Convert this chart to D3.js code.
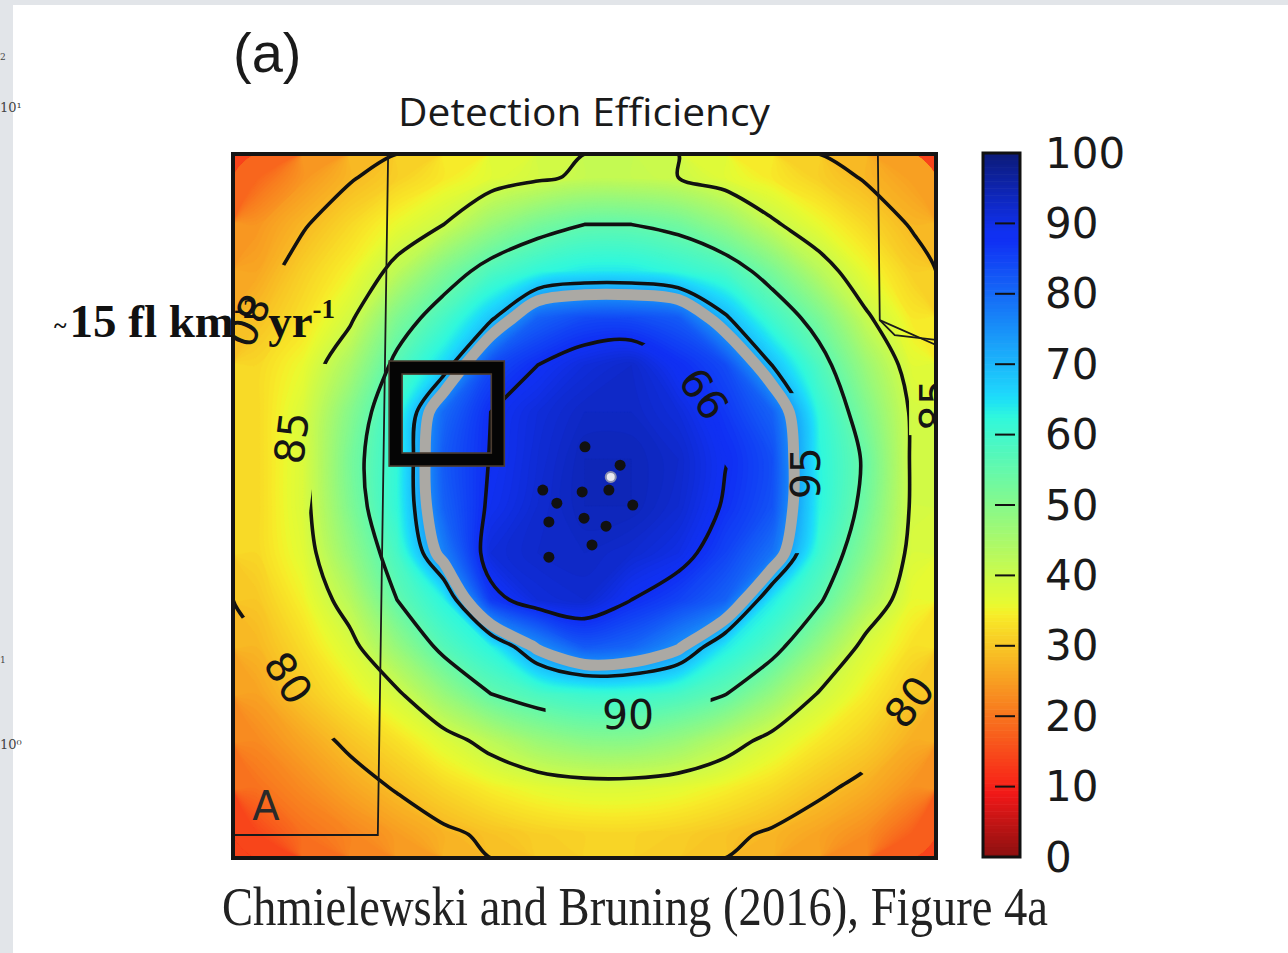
<!DOCTYPE html>
<html>
<head>
<meta charset="utf-8">
<script src="https://cdn.jsdelivr.net/npm/d3@7"></script>
<style>
  html, body { margin: 0; padding: 0; background: #fff; }
  svg { display: block; }
</style>
</head>
<body>
<script>
'use strict';

// detection efficiency (colour field, %) on a 15 x 15 grid
var nx = 15, ny = 15;
var effGrid = [
  [18, 24, 28, 31, 34, 37, 39, 41, 41, 40, 37, 34, 31, 28, 25],
  [24, 28, 32, 36, 40, 47, 52, 55, 55, 53, 48, 41, 36, 32, 28],
  [26, 31, 35, 42, 51, 58, 62, 64, 64, 62, 59, 52, 43, 36, 31],
  [29, 33, 39, 51, 59, 68, 81, 84, 84, 82, 70, 60, 52, 41, 34],
  [32, 36, 45, 57, 66, 84, 88, 91, 92.5, 88, 84, 69, 58, 47, 37],
  [32, 38, 50, 61, 80, 88, 91, 93, 93, 91, 86.5, 81, 62, 51, 39],
  [32, 38, 52, 62, 82, 88.3, 91.5, 94, 94, 92.5, 88.2, 83.6, 63, 54, 39],
  [32, 38, 51, 62, 81, 89, 92, 94, 94, 92, 87.5, 83, 63, 53, 39],
  [32, 37, 48, 59, 77, 91, 92.5, 93, 92, 90, 85, 79, 60.5, 50, 38],
  [30, 35, 43, 55, 63, 86, 91, 92, 88, 85, 81, 64, 56, 45, 36],
  [28, 32.5, 38, 47.6, 57, 63, 75, 82, 80.5, 75, 64, 57.6, 48, 38, 33],
  [25.5, 30, 34, 39, 47.5, 55, 58.6, 60.7, 60.8, 59, 55.3, 48, 39.6, 34.4, 30],
  [22.6, 26, 29.7, 33, 37.4, 42.3, 47, 49.5, 49.7, 47.4, 43, 38, 34, 31, 27],
  [19.6, 22.7, 26, 29, 32, 34.6, 36.5, 37.6, 37.6, 36.7, 34.8, 32.5, 29.6, 27, 23.5],
  [14, 19.4, 22, 24.8, 27.5, 29.4, 30.8, 31.5, 31.6, 30.9, 29.6, 27.8, 25.6, 22.9, 17]
];

// isolines drawn over the colours, and the value of the colour field they follow
var contourNames = ['80', '85', '90', '95', '99'];
var contourLevels = [28.5, 40, 55, 69, 88];
var grayRingLevel = 74;

// contour labels (grid units)
var labelText = ['85', '90', '95', '99', '80', '80', '80', '85'];
var labelX = [1.26, 8.43, 12.23, 10.07, 1.17, 14.44, 0.30, 14.98];
var labelY = [6.05, 11.95, 6.80, 5.09, 11.17, 11.68, 3.54, 5.35];
var labelAngle = [-83, 0, -90, -126, 57, -52, 113, -90];
var labelGap = [155, 165, 160, 150, 150, 170, 130, 60];

// network stations (grid units)
var stationX = [7.51, 8.26, 6.61, 7.45, 8.02, 6.91, 8.53, 6.74, 7.49, 7.96, 7.66, 6.74];
var stationY = [6.24, 6.63, 7.16, 7.20, 7.16, 7.44, 7.48, 7.84, 7.76, 7.93, 8.33, 8.59];
var centreStation = [8.06, 6.88];

// thin boundary lines on the map (grid units)
var boundaryLines = [
  [[3.31, 0], [3.09, 14.51], [0, 14.51]],
  [[13.76, 0], [13.80, 3.54], [15, 4.07]],
  [[13.80, 3.54], [14.12, 3.86], [15, 3.96]]
];
var regionLabel = { text: 'A', x: 0.41, y: 14.19 };

// highlight box drawn on the slide (grid units)
var highlightBox = [[3.47, 4.55], [5.65, 6.51]];

var colorbarTicks = [0, 10, 20, 30, 40, 50, 60, 70, 80, 90, 100];

// jet_r colour map, toned a little like the scanned figure
var jetStops = [0, 9, 11, 34, 35, 36, 62.5, 65, 66, 87.5, 89, 100];
var jetColors = ['#8a1010', '#f01818', '#f82a18', '#f8e828', '#f2f22a', '#e8fa30',
                 '#30f8dc', '#1ee0f6', '#1ed6fc', '#1030f4', '#1030f0', '#0c1a78'];

var W = 1288, H = 953;
var plot = { left: 233, top: 154, right: 936, bottom: 858 };
var cbar = { left: 983, right: 1020, top: 153, bottom: 857 };

var svg = d3.select('body').append('svg').attr('width', W).attr('height', H);

// slide background bits
svg.append('rect').attr('width', W).attr('height', H).attr('fill', '#fff');
svg.append('rect').attr('width', 13).attr('height', H).attr('fill', '#e2e5e9');
svg.append('rect').attr('width', W).attr('height', 5).attr('fill', '#e2e5e9');
var frag = svg.append('g').attr('font-family', 'DejaVu Serif').attr('fill', '#444');
frag.append('text').attr('x', 0).attr('y', 60).attr('font-size', 9).text('2');
frag.append('text').attr('x', 0).attr('y', 112).attr('font-size', 13).text('10¹');
frag.append('text').attr('x', 0).attr('y', 663).attr('font-size', 9).text('1');
frag.append('text').attr('x', 0).attr('y', 749).attr('font-size', 13).text('10⁰');

var color = d3.scaleLinear().domain(jetStops).range(jetColors).clamp(true);
var xScale = d3.scaleLinear().domain([0, nx]).range([plot.left, plot.right]);
var yScale = d3.scaleLinear().domain([0, ny]).range([plot.top, plot.bottom]);
var values = [].concat.apply([], effGrid);

// contour rings drawn as smooth closed curves
var ringLine = d3.line()
  .x(function (d) { return xScale(d[0]); })
  .y(function (d) { return yScale(d[1]); })
  .curve(d3.curveCatmullRomClosed.alpha(0.5));
var smoothPath = function (geom) {
  return geom.coordinates.map(function (poly) {
    return poly.map(function (ring) { return ringLine(ring.slice(0, -1)); }).join('');
  }).join('');
};

var defs = svg.append('defs');
defs.append('clipPath').attr('id', 'plotClip').append('rect')
  .attr('x', plot.left).attr('y', plot.top)
  .attr('width', plot.right - plot.left).attr('height', plot.bottom - plot.top);

// mask leaving gaps in the isolines where labels sit
var mask = defs.append('mask').attr('id', 'gapMask').attr('maskUnits', 'userSpaceOnUse')
  .attr('x', 0).attr('y', 0).attr('width', W).attr('height', H);
mask.append('rect').attr('width', W).attr('height', H).attr('fill', '#fff');
labelText.forEach(function (t, i) {
  mask.append('rect')
    .attr('transform', 'translate(' + xScale(labelX[i]) + ',' + yScale(labelY[i]) + ') rotate(' + labelAngle[i] + ')')
    .attr('x', -labelGap[i] / 2).attr('y', -26).attr('width', labelGap[i]).attr('height', 52)
    .attr('fill', '#000');
});

var g = svg.append('g').attr('clip-path', 'url(#plotClip)');

// filled colour field
g.append('rect').attr('x', plot.left).attr('y', plot.top)
  .attr('width', plot.right - plot.left).attr('height', plot.bottom - plot.top)
  .attr('fill', color(d3.min(values)));
var bands = d3.contours().size([nx, ny]).thresholds(d3.range(10, 96, 0.5))(values);
g.append('g').selectAll('path').data(bands).enter().append('path')
  .attr('d', smoothPath)
  .attr('fill-rule', 'evenodd')
  .attr('fill', function (d) { return color(d.value + 0.25); })
  .attr('stroke', function (d) { return color(d.value + 0.25); })
  .attr('stroke-width', 0.6);

// grey ring
var ring = d3.contours().size([nx, ny]).thresholds([grayRingLevel])(values);
g.append('g').selectAll('path').data(ring).enter().append('path')
  .attr('d', smoothPath).attr('fill', 'none')
  .attr('stroke', '#aba9a4').attr('stroke-width', 11);

// black isolines
var iso = d3.contours().size([nx, ny]).thresholds(contourLevels)(values);
g.append('g').attr('mask', 'url(#gapMask)')
  .selectAll('path').data(iso).enter().append('path')
  .attr('d', smoothPath).attr('fill', 'none')
  .attr('stroke', '#111').attr('stroke-width', 3.6).attr('stroke-linejoin', 'round');

// boundaries
var line = d3.line().x(function (d) { return xScale(d[0]); }).y(function (d) { return yScale(d[1]); });
g.append('g').selectAll('path').data(boundaryLines).enter().append('path')
  .attr('d', line).attr('fill', 'none').attr('stroke', '#1a1a1a').attr('stroke-width', 1.8);

// contour labels
g.append('g').selectAll('text').data(labelText).enter().append('text')
  .attr('transform', function (d, i) {
    return 'translate(' + xScale(labelX[i]) + ',' + yScale(labelY[i]) + ') rotate(' + labelAngle[i] + ')';
  })
  .attr('text-anchor', 'middle').attr('dominant-baseline', 'central')
  .attr('font-family', 'DejaVu Sans').attr('font-size', 41).attr('fill', '#151515')
  .text(function (d) { return d; });

g.append('text').attr('x', xScale(regionLabel.x)).attr('y', yScale(regionLabel.y))
  .attr('font-family', 'DejaVu Sans').attr('font-size', 40).attr('fill', '#2a2a2a')
  .text(regionLabel.text);

// stations
g.append('g').selectAll('circle').data(stationX).enter().append('circle')
  .attr('cx', function (d) { return xScale(d); })
  .attr('cy', function (d, i) { return yScale(stationY[i]); })
  .attr('r', 5.5).attr('fill', '#111');
g.append('circle').attr('cx', xScale(centreStation[0])).attr('cy', yScale(centreStation[1]))
  .attr('r', 5).attr('fill', '#e8e8f0').attr('stroke', '#8a8fb0').attr('stroke-width', 2);

// frame
svg.append('rect').attr('x', plot.left).attr('y', plot.top)
  .attr('width', plot.right - plot.left).attr('height', plot.bottom - plot.top)
  .attr('fill', 'none').attr('stroke', '#151515').attr('stroke-width', 4);

// colour bar
var cy = d3.scaleLinear().domain([0, 100]).range([cbar.bottom, cbar.top]);
svg.append('g').selectAll('rect').data(d3.range(0, 100, 0.5)).enter().append('rect')
  .attr('x', cbar.left).attr('width', cbar.right - cbar.left)
  .attr('y', function (d) { return cy(d + 0.5); })
  .attr('height', function (d) { return cy(d) - cy(d + 0.5) + 0.6; })
  .attr('fill', function (d) { return color(d + 0.25); });
svg.append('g').selectAll('line').data(colorbarTicks.slice(1, -1)).enter().append('line')
  .attr('x1', cbar.left + 12).attr('x2', cbar.right - 5)
  .attr('y1', function (d) { return cy(d); }).attr('y2', function (d) { return cy(d); })
  .attr('stroke', '#111').attr('stroke-width', 2);
svg.append('rect').attr('x', cbar.left).attr('y', cbar.top)
  .attr('width', cbar.right - cbar.left).attr('height', cbar.bottom - cbar.top)
  .attr('fill', 'none').attr('stroke', '#111').attr('stroke-width', 3);
svg.append('g').selectAll('text').data(colorbarTicks).enter().append('text')
  .attr('x', 1045).attr('y', function (d) { return cy(d); })
  .attr('dominant-baseline', 'central')
  .attr('font-family', 'DejaVu Sans').attr('font-size', 42).attr('fill', '#1a1a1a')
  .text(function (d) { return d; });

// titles
svg.append('text').attr('x', 233).attr('y', 72)
  .attr('font-family', 'Liberation Sans').attr('font-size', 56).attr('fill', '#1a1a1a')
  .text('(a)');
svg.append('text').attr('x', 398).attr('y', 126)
  .attr('font-family', 'Open Sans').attr('font-size', 38).attr('fill', '#1a1a1a')
  .attr('textLength', 372).attr('lengthAdjust', 'spacingAndGlyphs')
  .text('Detection Efficiency');

// highlight box
var bx0 = xScale(highlightBox[0][0]), by0 = yScale(highlightBox[0][1]);
var bx1 = xScale(highlightBox[1][0]), by1 = yScale(highlightBox[1][1]);
svg.append('rect').attr('x', bx0).attr('y', by0).attr('width', bx1 - bx0).attr('height', by1 - by0)
  .attr('fill', 'none').attr('stroke', '#050505').attr('stroke-width', 13);
[-6.5, 6.5].forEach(function (o) {
  svg.append('rect').attr('x', bx0 + o).attr('y', by0 + o)
    .attr('width', bx1 - bx0 - 2 * o).attr('height', by1 - by0 - 2 * o)
    .attr('fill', 'none').attr('stroke', '#4a3c30').attr('stroke-width', 1.6);
});

// slide annotation
var ann = svg.append('text').attr('x', 54).attr('y', 337)
  .attr('font-family', 'Liberation Serif').attr('font-weight', 'bold').attr('fill', '#111');
ann.append('tspan').attr('font-size', 24).attr('dy', -4).text('~');
ann.append('tspan').attr('font-size', 47).attr('dy', 4).attr('dx', 3).text('15 fl km');
ann.append('tspan').attr('font-size', 27).attr('dy', -19).text('-2');
ann.append('tspan').attr('font-size', 47).attr('dy', 19).text(' yr');
ann.append('tspan').attr('font-size', 27).attr('dy', -19).text('-1');

svg.append('text').attr('x', 222).attr('y', 925)
  .attr('font-family', 'Liberation Serif').attr('font-size', 54).attr('fill', '#222')
  .attr('textLength', 826).attr('lengthAdjust', 'spacingAndGlyphs')
  .text('Chmielewski and Bruning (2016), Figure 4a');
</script>
</body>
</html>
